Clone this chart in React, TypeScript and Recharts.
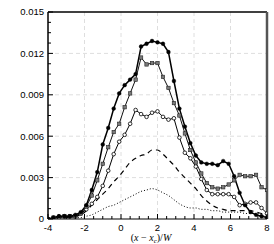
import React from "react";
import { LineChart, Line, XAxis, YAxis, CartesianGrid, ReferenceLine } from "recharts";

const xValues = [
  -4, -3.7, -3.4, -3.1, -2.8, -2.5, -2.2, -1.9, -1.6, -1.3, -1.0, -0.7, -0.4, -0.1,
  0.2, 0.5, 0.8, 1.1, 1.4, 1.7, 2.0, 2.3, 2.6, 2.9, 3.2, 3.5, 3.8, 4.1, 4.4, 4.7,
  5.0, 5.3, 5.6, 5.9, 6.2, 6.5, 6.8, 7.1, 7.4, 7.7, 8.0,
];

const filledCircles = [
  0, 0.0001, 0.0002, 0.0002, 0.0002, 0.0003, 0.0005, 0.001, 0.0021, 0.0034, 0.0054, 0.0066, 0.008, 0.0091,
  0.0097, 0.0101, 0.0105, 0.0125, 0.0127, 0.0129, 0.0128, 0.0127, 0.0121, 0.01, 0.008, 0.0067, 0.0055, 0.0046, 0.0041, 0.004,
  0.004, 0.0039, 0.0042, 0.004, 0.0031, 0.0019, 0.001, 0.0005, 0.0003, 0.0002, 0.0001,
];

const graySquares = [
  0, 0.0001, 0.0001, 0.0002, 0.0002, 0.0002, 0.0004, 0.0009, 0.0017, 0.0028, 0.004, 0.0052, 0.0063, 0.0069,
  0.0081, 0.0091, 0.0101, 0.0117, 0.0112, 0.0113, 0.0113, 0.0103, 0.0095, 0.0084, 0.0075, 0.0062, 0.005, 0.0041, 0.0033, 0.0026,
  0.0023, 0.0022, 0.0023, 0.0025, 0.0028, 0.0032, 0.0031, 0.0031, 0.0032, 0.0023, 0.0021,
];

const openCircles = [
  0, 0.0001, 0.0002, 0.0002, 0.0002, 0.0002, 0.0004, 0.0007, 0.0011, 0.0016, 0.0024, 0.0035, 0.0047, 0.0056,
  0.0061, 0.0069, 0.0079, 0.0076, 0.0074, 0.0077, 0.0078, 0.0074, 0.0072, 0.0073, 0.0059, 0.0048, 0.0044, 0.0038, 0.0029, 0.0021,
  0.0018, 0.0018, 0.0018, 0.0018, 0.0016, 0.001, 0.0011, 0.0012, 0.0012, 0.0008, 0.0004,
];

const dashed = [
  0, 0, 0.0001, 0.0001, 0.0001, 0.0002, 0.0003, 0.0006, 0.001, 0.0014, 0.0018, 0.0022, 0.0027, 0.0031,
  0.0036, 0.0041, 0.0044, 0.0046, 0.0047, 0.005, 0.005, 0.0047, 0.0043, 0.0039, 0.0034, 0.003, 0.0026, 0.0022, 0.0017, 0.0013,
  0.001, 0.0008, 0.0007, 0.0006, 0.0006, 0.0006, 0.0006, 0.0006, 0.0005, 0.0004, 0.0003,
];

const dotted = [
  0, 0, 0, 0.0001, 0.0001, 0.0001, 0.0001, 0.0002, 0.0003, 0.0005, 0.0007, 0.0009, 0.001, 0.0012,
  0.0014, 0.0016, 0.0018, 0.002, 0.0021, 0.0022, 0.0021, 0.0019, 0.0017, 0.0014, 0.0011, 0.0009, 0.0008, 0.0008, 0.0007, 0.0007,
  0.0006, 0.0006, 0.0005, 0.0005, 0.0005, 0.0005, 0.0004, 0.0004, 0.0004, 0.0003, 0.0001,
];

const xTicks = [-4, -3.5, -3, -2.5, -2, -1.5, -1, -0.5, 0, 0.5, 1, 1.5, 2, 2.5, 3, 3.5, 4, 4.5, 5, 5.5, 6, 6.5, 7, 7.5, 8];
const xMajor = [-4, -2, 0, 2, 4, 6, 8];
const yTicks = [
  0, 0.00075, 0.0015, 0.00225, 0.003, 0.00375, 0.0045, 0.00525, 0.006, 0.00675, 0.0075, 0.00825,
  0.009, 0.00975, 0.0105, 0.01125, 0.012, 0.01275, 0.0135, 0.01425, 0.015,
];
const yMajor = [0, 0.003, 0.006, 0.009, 0.012, 0.015];
const yLabels = ["0", "0.003", "0.006", "0.009", "0.012", "0.015"];
const xGrid = [-2, 0, 2, 4, 6];
const yGrid = [0.003, 0.006, 0.009, 0.012];

const data = xValues.map((x, i) => ({
  x,
  a: filledCircles[i],
  b: graySquares[i],
  c: openCircles[i],
  d: dashed[i],
  e: dotted[i],
}));

const FONT = "'Liberation Sans', Arial, Helvetica, sans-serif";

const isMajor = (v: number, list: number[]) => list.some((m) => Math.abs(m - v) < 1e-9);

const XTick = (props: any) => {
  const { x, y, payload } = props;
  const v = payload.value;
  const major = isMajor(v, xMajor);
  return (
    <g>
      <line x1={x} x2={x} y1={y} y2={y - (major ? 5 : 3)} stroke="#000" strokeWidth={1} />
      {major && (
        <text x={x} y={y + 11.5} textAnchor="middle" fontSize={9.5} fontFamily={FONT} fill="#000">
          {v}
        </text>
      )}
    </g>
  );
};

const YTick = (props: any) => {
  const { x, y, payload } = props;
  const v = payload.value;
  const idx = yMajor.findIndex((m) => Math.abs(m - v) < 1e-9);
  const major = idx >= 0;
  return (
    <g>
      <line x1={x} x2={x + (major ? 5 : 3)} y1={y} y2={y} stroke="#000" strokeWidth={1} />
      {major && (
        <text x={x - 4} y={y + 3.4} textAnchor="end" fontSize={9.5} fontFamily={FONT} fill="#000">
          {yLabels[idx]}
        </text>
      )}
    </g>
  );
};

const FilledDot = (p: any) => <circle key={`a${p.index}`} cx={p.cx} cy={p.cy} r={1.9} fill="#000" stroke="#000" strokeWidth={0.4} />;
const SquareDot = (p: any) => (
  <rect key={`b${p.index}`} x={p.cx - 1.7} y={p.cy - 1.7} width={3.4} height={3.4} fill="#7a7a7a" stroke="#222" strokeWidth={0.6} />
);
const OpenDot = (p: any) => <circle key={`c${p.index}`} cx={p.cx} cy={p.cy} r={1.8} fill="#fff" stroke="#000" strokeWidth={0.8} />;

export default function App() {
  return (
    <div style={{ position: "absolute", left: 0, top: 0, width: 274, height: 244, background: "#fff" }}>
      <LineChart width={274} height={244} data={data} margin={{ top: 12, right: 7, bottom: 0, left: 0 }}>
        <CartesianGrid
          stroke="#dedede"
          strokeDasharray="4 3"
          horizontalValues={yGrid}
          verticalValues={xGrid}
        />
        <XAxis
          type="number"
          dataKey="x"
          domain={[-4, 8]}
          ticks={xTicks}
          interval={0}
          height={25}
          tickSize={0}
          tickMargin={0}
          tickLine={false}
          axisLine={{ stroke: "#000", strokeWidth: 1.2 }}
          tick={<XTick />}
          allowDataOverflow
        />
        <YAxis
          type="number"
          domain={[0, 0.015]}
          ticks={yTicks}
          interval={0}
          width={48}
          tickSize={0}
          tickMargin={0}
          tickLine={false}
          axisLine={{ stroke: "#000", strokeWidth: 1.5 }}
          tick={<YTick />}
          allowDataOverflow
        />
        <ReferenceLine y={0.015} stroke="#000" strokeWidth={1.5} />
        <ReferenceLine x={8} stroke="#555" strokeWidth={2.5} />
        <Line dataKey="e" stroke="#000" strokeWidth={1} strokeDasharray="1 2" dot={false} isAnimationActive={false} type="monotone" />
        <Line dataKey="d" stroke="#000" strokeWidth={1.2} strokeDasharray="5 4" dot={false} isAnimationActive={false} type="monotone" />
        <Line dataKey="c" stroke="#000" strokeWidth={1} dot={OpenDot} isAnimationActive={false} type="linear" />
        <Line dataKey="b" stroke="#111" strokeWidth={1} dot={SquareDot} isAnimationActive={false} type="linear" />
        <Line dataKey="a" stroke="#000" strokeWidth={1.5} dot={FilledDot} isAnimationActive={false} type="linear" />
      </LineChart>
      <svg width={274} height={244} style={{ position: "absolute", left: 0, top: 0, pointerEvents: "none" }}>
        <text x={151} y={241} textAnchor="middle" fontSize={10} fontFamily="'Liberation Serif', 'Times New Roman', serif" fill="#000">
          (<tspan fontStyle="italic">x</tspan> − <tspan fontStyle="italic">x</tspan>
          <tspan fontStyle="italic" fontSize={7} dy={2}>c</tspan>
          <tspan dy={-2}>)/</tspan>
          <tspan fontStyle="italic">W</tspan>
        </text>
      </svg>
    </div>
  );
}
